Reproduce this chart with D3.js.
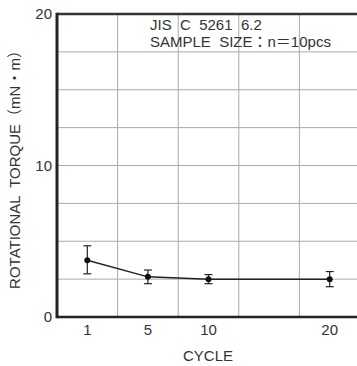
<!DOCTYPE html>
<html lang="en">
<head>
<meta charset="utf-8">
<title>Rotational torque</title>
<script src="https://d3js.org/d3.v7.min.js"></script>
<style>
  body { margin: 0; background: white; }
  text { font-family: "Liberation Sans", "Noto Sans CJK JP", Arial, sans-serif; fill: #333; white-space: pre; }
</style>
</head>
<body>
<div id="chart"></div>
<script>

// data
var slots = ["1", "5", "10", "15", "20"]    // columns on the x axis
var cycles = ["1", "5", "10", "20"]
var torque = [3.75, 2.65, 2.5, 2.5]
var errLow = [2.85, 2.2, 2.2, 2.0]
var errHigh = [4.7, 3.1, 2.8, 3.0]
var yTicks = [0, 10, 20]
var xLabels = ["1", "5", "10", "20"]

var width = 357, height = 366
var margin = {top: 14, right: -3, bottom: 49, left: 57}

var svg = d3.select("#chart").append("svg")
  .attr("width", width)
  .attr("height", height)

var x = d3.scaleBand()
  .domain(slots)
  .range([margin.left, width - margin.right])

var y = d3.scaleLinear()
  .domain([0, 20])
  .range([height - margin.bottom, margin.top])

// grid
var grid = svg.append("g")
grid.selectAll("line.h")
  .data(d3.range(2.5, 20, 2.5))
  .enter().append("line")
    .attr("x1", margin.left).attr("x2", width)
    .attr("y1", function(d){ return y(d) }).attr("y2", function(d){ return y(d) })
    .attr("stroke", "#aaa").attr("stroke-width", 1)
grid.selectAll("line.v")
  .data(slots.slice(1))
  .enter().append("line")
    .attr("x1", function(d){ return x(d) }).attr("x2", function(d){ return x(d) })
    .attr("y1", y(0)).attr("y2", y(20))
    .attr("stroke", "#aaa").attr("stroke-width", 1)

// frame
svg.append("line")
  .attr("x1", margin.left).attr("x2", width)
  .attr("y1", y(20)).attr("y2", y(20))
  .attr("stroke", "#333").attr("stroke-width", 2.5)
svg.append("line")
  .attr("x1", margin.left).attr("x2", width)
  .attr("y1", y(0)).attr("y2", y(0))
  .attr("stroke", "#222").attr("stroke-width", 2.5)
svg.append("line")
  .attr("x1", margin.left).attr("x2", margin.left)
  .attr("y1", y(0) + 1.25).attr("y2", y(20) - 1.25)
  .attr("stroke", "#222").attr("stroke-width", 3)

// y tick labels
svg.selectAll("text.ytick")
  .data(yTicks)
  .enter().append("text")
    .attr("x", margin.left - 5)
    .attr("y", function(d){ return y(d) })
    .attr("dy", "0.35em")
    .attr("text-anchor", "end")
    .style("font-size", "15px")
    .text(function(d){ return d })

// x tick labels
svg.selectAll("text.xtick")
  .data(xLabels)
  .enter().append("text")
    .attr("x", function(d){ return x(d) + x.bandwidth() / 2 })
    .attr("y", y(0) + 13)
    .attr("dy", "0.35em")
    .attr("text-anchor", "middle")
    .style("font-size", "15px")
    .text(function(d){ return d })

// axis titles
svg.append("text")
  .attr("x", 208).attr("y", 356)
  .attr("dy", "0.35em")
  .attr("text-anchor", "middle")
  .style("font-size", "15px")
  .text("CYCLE")

svg.append("text")
  .attr("transform", "translate(15,166) rotate(-90)")
  .attr("dy", "0.35em")
  .attr("text-anchor", "middle")
  .style("font-size", "15px")
  .text("ROTATIONAL  TORQUE（mN・m）")

// note
svg.append("text")
  .attr("x", 150).attr("y", 30)
  .style("font-size", "15px")
  .text("JIS  C  5261  6.2")
svg.append("text")
  .attr("x", 150).attr("y", 47)
  .style("font-size", "15px")
  .text("SAMPLE  SIZE：n＝10pcs")

// series
var pts = cycles.map(function(c, i){
  return {c: c, v: torque[i], lo: errLow[i], hi: errHigh[i]}
})
var cx = function(d){ return x(d.c) + x.bandwidth() / 2 }

svg.append("path")
  .datum(pts)
  .attr("fill", "none")
  .attr("stroke", "#222")
  .attr("stroke-width", 1.5)
  .attr("d", d3.line().x(cx).y(function(d){ return y(d.v) }))

var err = svg.append("g").selectAll("g")
  .data(pts)
  .enter().append("g")
    .attr("stroke", "#222").attr("stroke-width", 1.2)
err.append("line")
  .attr("x1", cx).attr("x2", cx)
  .attr("y1", function(d){ return y(d.lo) }).attr("y2", function(d){ return y(d.hi) })
err.append("line")
  .attr("x1", function(d){ return cx(d) - 4 }).attr("x2", function(d){ return cx(d) + 4 })
  .attr("y1", function(d){ return y(d.lo) }).attr("y2", function(d){ return y(d.lo) })
err.append("line")
  .attr("x1", function(d){ return cx(d) - 4 }).attr("x2", function(d){ return cx(d) + 4 })
  .attr("y1", function(d){ return y(d.hi) }).attr("y2", function(d){ return y(d.hi) })

svg.append("g").selectAll("circle")
  .data(pts)
  .enter().append("circle")
    .attr("cx", cx)
    .attr("cy", function(d){ return y(d.v) })
    .attr("r", 3)
    .attr("fill", "#111")

</script>
</body>
</html>
